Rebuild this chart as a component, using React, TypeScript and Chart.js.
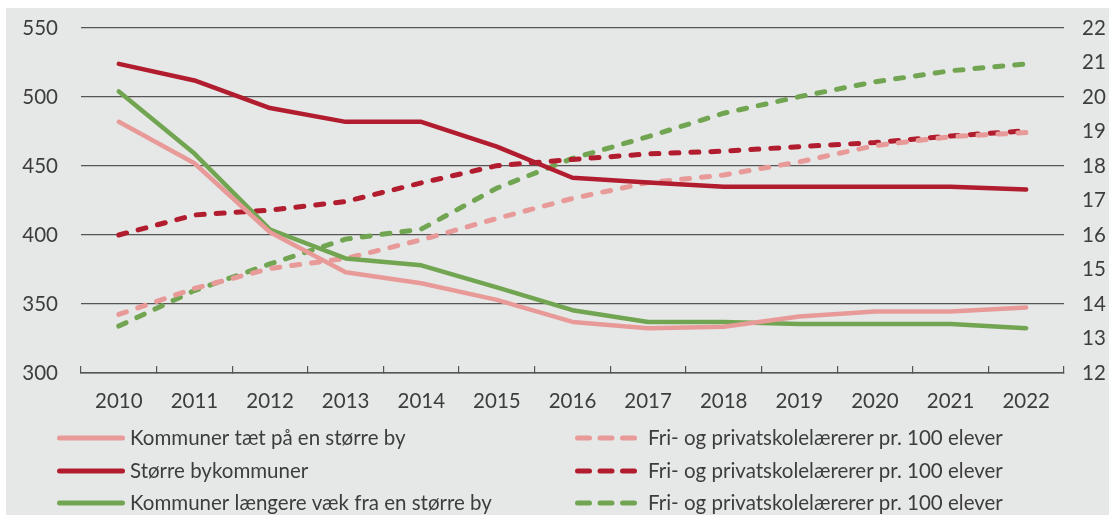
import { useEffect, useRef } from "react";
import { Chart, registerables } from "chart.js";

Chart.register(...registerables);

const years = ["2010", "2011", "2012", "2013", "2014", "2015", "2016", "2017", "2018", "2019", "2020", "2021", "2022"];

// Left axis (300-550)
const taetPaa = [482, 452, 402, 373, 365, 353, 337, 332.5, 333.5, 341, 344.5, 344.5, 347.5];
const stoerreBy = [524, 512, 492, 482, 482, 464, 441.5, 438, 435, 435, 435, 435, 433];
const laengereVaek = [504, 459, 404, 383, 378, 362, 345.5, 337, 337, 335.5, 335.5, 335.5, 332.5];

// Right axis: Fri- og privatskolelærerer pr. 100 elever (12-22)
const friTaetPaa = [13.7, 14.45, 15.03, 15.32, 15.86, 16.48, 17.06, 17.52, 17.74, 18.12, 18.59, 18.85, 18.97];
const friStoerreBy = [16.0, 16.58, 16.72, 16.97, 17.51, 18.01, 18.19, 18.35, 18.43, 18.56, 18.68, 18.87, 19.02];
const friLaengereVaek = [13.36, 14.39, 15.16, 15.88, 16.17, 17.36, 18.22, 18.85, 19.53, 20.01, 20.44, 20.76, 20.96];

const labelsLeft = ["Kommuner tæt på en større by", "Større bykommuner", "Kommuner længere væk fra en større by"];
const labelRight = "Fri- og privatskolelærerer pr. 100 elever";

const leftTicks = { min: 300, max: 550, step: 50 };
const rightTicks = { min: 12, max: 22, step: 1 };

const PINK = "#e89a99";
const RED = "#b11c2e";
const GREEN = "#72a552";
const TEXT = "#3d3d3d";
const GRID = "#555555";
const FONT = "Lato, 'Open Sans', sans-serif";
const FS = 20.5;

const legendPlugin = {
  id: "customLegend",
  afterDraw(chart: any) {
    const ctx = chart.ctx as CanvasRenderingContext2D;
    const ds = chart.data.datasets;
    const rows = [430, 463, 495];
    ctx.save();
    ctx.font = `${FS}px ${FONT}`;
    ctx.fillStyle = TEXT;
    ctx.textBaseline = "middle";
    ctx.lineCap = "round";
    for (let i = 0; i < 3; i++) {
      const d = ds[i];
      const y = rows[i];
      ctx.strokeStyle = d.borderColor;
      ctx.lineWidth = 5;
      ctx.setLineDash([]);
      ctx.beginPath();
      ctx.moveTo(53.5, y);
      ctx.lineTo(116.5, y);
      ctx.stroke();
      ctx.fillStyle = TEXT;
      ctx.fillText(d.label, 124, y);
      const d2 = ds[i + 3];
      ctx.strokeStyle = d2.borderColor;
      for (let k = 0; k < 3; k++) {
        const sx = 571.5 + k * 22.5;
        ctx.beginPath();
        ctx.moveTo(sx, y);
        ctx.lineTo(sx + 12, y);
        ctx.stroke();
      }
      ctx.fillText(labelRight, 642, y);
    }
    ctx.restore();
  },
};

const noVPad = (s: any, w: number) => {
  s.width = w;
  s.paddingTop = 0;
  s.paddingBottom = 0;
};

export default function App() {
  const ref = useRef<HTMLCanvasElement | null>(null);

  useEffect(() => {
    if (!ref.current) return;
    const solid = (label: string, data: number[], color: string) => ({
      label,
      data,
      borderColor: color,
      backgroundColor: color,
      borderWidth: 4.5,
      borderCapStyle: "round" as const,
      borderJoinStyle: "round" as const,
      pointRadius: 0,
      tension: 0,
      yAxisID: "y",
    });
    const dashed = (label: string, data: number[], color: string) => ({
      label,
      data,
      borderColor: color,
      backgroundColor: color,
      borderWidth: 5,
      borderDash: [8, 12],
      borderCapStyle: "round" as const,
      borderJoinStyle: "round" as const,
      pointRadius: 0,
      tension: 0,
      yAxisID: "y2",
    });

    const chart = new Chart(ref.current, {
      type: "line",
      data: {
        labels: years,
        datasets: [
          solid(labelsLeft[0], taetPaa, PINK),
          solid(labelsLeft[1], stoerreBy, RED),
          solid(labelsLeft[2], laengereVaek, GREEN),
          dashed(labelRight, friTaetPaa, PINK),
          dashed(labelRight, friStoerreBy, RED),
          dashed(labelRight, friLaengereVaek, GREEN),
        ] as any,
      },
      plugins: [legendPlugin],
      options: {
        animation: false,
        responsive: true,
        maintainAspectRatio: false,
        layout: { padding: { top: 20, left: 0, right: 0, bottom: 0 } },
        plugins: {
          legend: { display: false },
          tooltip: { enabled: false },
        },
        scales: {
          x: {
            offset: true,
            grid: {
              offset: true,
              drawOnChartArea: false,
              drawTicks: true,
              tickLength: -7,
              color: GRID,
              lineWidth: 1.2,
            },
            border: { display: true, color: GRID, width: 1.5 },
            ticks: {
              color: TEXT,
              font: { family: FONT, size: FS },
              padding: 23,
              maxRotation: 0,
              autoSkip: false,
            },
            afterFit: (s: any) => {
              s.height = 142;
            },
          },
          y: {
            position: "left",
            min: leftTicks.min,
            max: leftTicks.max,
            ticks: {
              stepSize: leftTicks.step,
              color: TEXT,
              font: { family: FONT, size: FS },
              padding: 23,
            },
            grid: { color: GRID, lineWidth: 1.2, drawTicks: false },
            border: { display: false },
            afterFit: (s: any) => noVPad(s, 75),
          },
          y2: {
            position: "right",
            min: rightTicks.min,
            max: rightTicks.max,
            ticks: {
              stepSize: rightTicks.step,
              color: TEXT,
              font: { family: FONT, size: FS },
              padding: 18,
            },
            grid: { display: false, drawTicks: false },
            border: { display: false },
            afterFit: (s: any) => noVPad(s, 45),
          },
        },
      },
    });
    return () => chart.destroy();
  }, []);

  return (
    <div
      style={{
        position: "fixed",
        left: 6,
        top: 8,
        width: 1103,
        height: 507,
        background: "#e6e8e7",
      }}
    >
      <canvas ref={ref} />
    </div>
  );
}
